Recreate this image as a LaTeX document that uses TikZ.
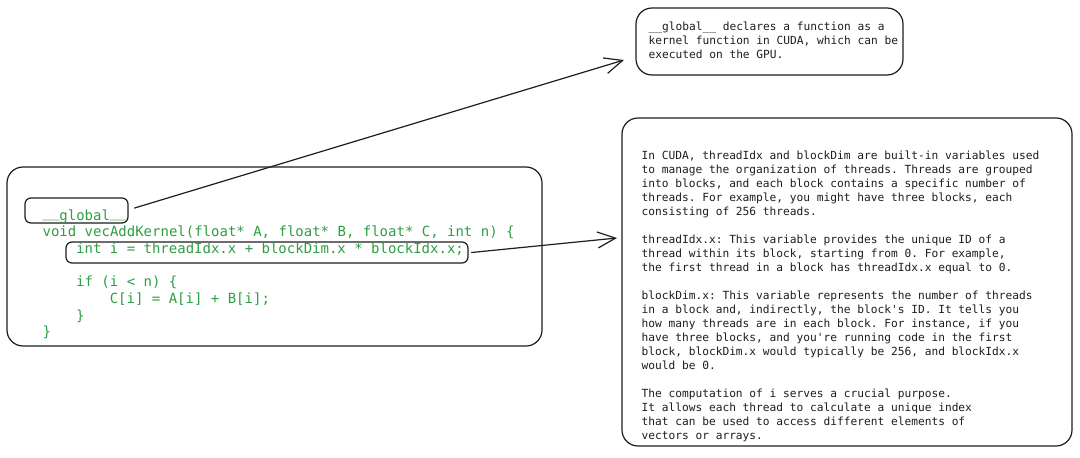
\documentclass[tikz,border=0pt]{standalone}
\usepackage{fontspec}
\setmonofont{DejaVu Sans Mono}
\usepackage{xcolor}
\usetikzlibrary{arrows.meta}
\definecolor{codegreen}{HTML}{2F9E44}
\definecolor{inkgray}{HTML}{1E1E1E}
\newcommand\hiscore{\raisebox{2.5pt}{\_}}

\begin{document}
\begin{tikzpicture}[x=1pt, y=-1pt, line width=1.2pt, draw=inkgray,
  roundbox/.style={draw, rounded corners=16pt, inner sep=0pt},
  markbox/.style={draw, rounded corners=6pt, inner sep=0pt},
  codeline/.style={anchor=base west, inner sep=0pt, text=codegreen, font=\ttfamily\fontsize{14}{16.7}\selectfont},
  notetext/.style={anchor=north west, inner sep=0pt, align=left, text=inkgray, font=\ttfamily\frenchspacing\fontsize{11.2}{14}\selectfont},
  pointer/.style={-{Straight Barb[length=18pt,width=16pt]}, line cap=round}]
\fill[white] (0,0) rectangle (1080,458);
\useasboundingbox (0,0) rectangle (1080,458);
% boxes
\node[roundbox, minimum width=535pt, minimum height=179pt] (kernel) at (274.5,256.5) {};
\node[roundbox, minimum width=267pt, minimum height=67pt] (globnote) at (769.5,41.5) {};
\node[roundbox, minimum width=450pt, minimum height=328pt] (idxnote) at (847,282) {};
\node[markbox, minimum width=103pt, minimum height=25pt] (globmark) at (76.5,210.5) {};
\node[markbox, minimum width=402pt, minimum height=21pt] (intmark) at (267,252.5) {};
% code
\node[codeline] (c1) at (42,220) {\hiscore\hiscore global\hiscore\hiscore};
\node[codeline] (c2) at (42,236.7) {void vecAddKernel(float* A, float* B, float* C, int n) \{};
\node[codeline] (c3) at (75.6,253.4) {int i = threadIdx.x + blockDim.x * blockIdx.x;};
\node[codeline] (c4) at (75.6,286.8) {if (i < n) \{};
\node[codeline] (c5) at (109.2,303.5) {C[i] = A[i] + B[i];};
\node[codeline] (c6) at (75.6,320.2) {\}};
\node[codeline] (c7) at (42,336.9) {\}};
% notes
\node[notetext] (globtext) at (648,21.5) {\_\_global\_\_ declares a function as a\\
kernel function in CUDA, which can be\\
executed on the GPU.};
\node[notetext] (idxtext) at (641,150.5) {In CUDA, threadIdx and blockDim are built-in variables used\\
to manage the organization of threads. Threads are grouped\\
into blocks, and each block contains a specific number of\\
threads. For example, you might have three blocks, each\\
consisting of 256 threads.\\[14pt]
threadIdx.x: This variable provides the unique ID of a\\
thread within its block, starting from 0. For example,\\
the first thread in a block has threadIdx.x equal to 0.\\[14pt]
blockDim.x: This variable represents the number of threads\\
in a block and, indirectly, the block's ID. It tells you\\
how many threads are in each block. For instance, if you\\
have three blocks, and you're running code in the first\\
block, blockDim.x would typically be 256, and blockIdx.x\\
would be 0.\\[14pt]
The computation of i serves a crucial purpose.\\
It allows each thread to calculate a unique index\\
that can be used to access different elements of\\
vectors or arrays.};
% pointers
\coordinate (globtip) at (624,60);
\coordinate (idxtip) at (617,238);
\draw[pointer] ([shift={(6,-2.5)}]globmark.east) -- (globtip);
\draw[pointer] ([shift={(3,0)}]intmark.east) -- (idxtip);
\end{tikzpicture}
\end{document}
